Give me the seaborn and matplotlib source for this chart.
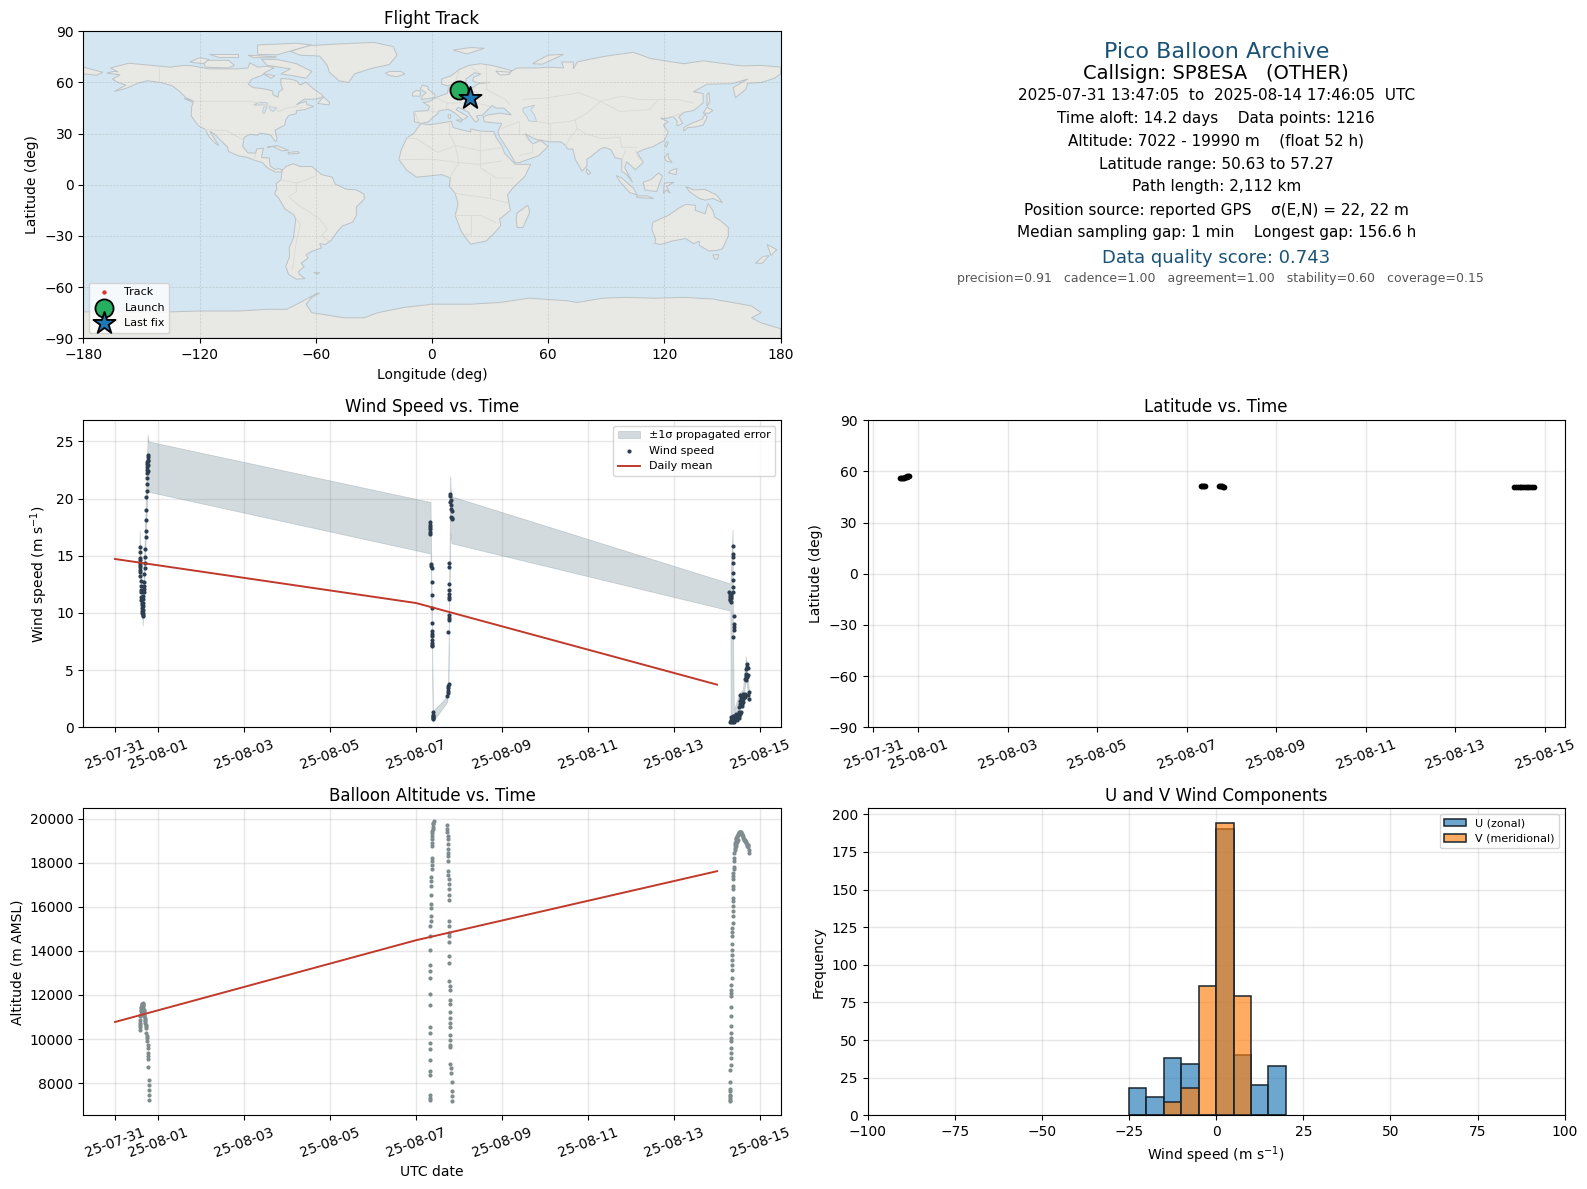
import numpy as np
import pandas as pd
import matplotlib
matplotlib.use('Agg')
import matplotlib.pyplot as plt
import seaborn as sns

# --- wind speed samples (days after 2025-07-31 00:00, m/s)
wind_days = [0.572, 0.572, 0.575, 0.578, 0.58, 0.582, 0.585, 0.588, 0.59, 0.593, 0.596, 0.6, 0.604, 0.608, 0.612, 0.616,
             0.62, 0.624, 0.628, 0.632, 0.636, 0.64, 0.645,
             0.65, 0.652, 0.655, 0.657, 0.66, 0.662, 0.665, 0.667, 0.67, 0.672, 0.676, 0.69, 0.697, 0.7, 0.705, 0.71,
             0.715, 0.72, 0.725, 0.73, 0.735, 0.737, 0.74, 0.742, 0.745, 0.75, 0.752, 0.755, 0.757, 0.76, 0.76, 0.762,
             0.76, 0.758,
             7.325, 7.327, 7.33, 7.322, 7.33, 7.335, 7.357, 7.357, 7.36, 7.36, 7.36, 7.36, 7.36, 7.36, 7.36, 7.36,
             7.37, 7.375, 7.38, 7.38, 7.39, 7.39, 7.385, 7.39, 7.385, 7.385,
             7.73, 7.735, 7.74, 7.745, 7.75, 7.755, 7.75, 7.755, 7.755, 7.76, 7.77, 7.77, 7.775, 7.775, 7.775, 7.77,
             7.775, 7.83, 7.825, 7.82, 7.83, 7.82, 7.81, 7.8, 7.805, 7.8, 7.8,
             14.28, 14.29, 14.3, 14.31, 14.32, 14.33, 14.3, 14.315, 14.325,
             14.37, 14.37, 14.37, 14.37, 14.365, 14.37, 14.37, 14.37, 14.385, 14.39, 14.39, 14.385, 14.36,
             14.31, 14.33, 14.32, 14.34, 14.35, 14.37, 14.39, 14.4, 14.42, 14.44, 14.46, 14.48, 14.5, 14.52, 14.54,
             14.32, 14.36, 14.4, 14.43, 14.47, 14.5, 14.53, 14.55,
             14.52, 14.53, 14.54, 14.55, 14.56, 14.57, 14.58, 14.59, 14.6, 14.61, 14.62, 14.54, 14.57, 14.6,
             14.64, 14.66, 14.68, 14.7, 14.68, 14.67, 14.66, 14.67, 14.69, 14.7, 14.71, 14.72, 14.74, 14.745, 14.73]
wind_speed = [15.8, 15.3, 14.8, 14.6, 14.4, 14.2, 14.0, 13.8, 13.6, 13.2, 12.8, 12.4, 12.0, 11.8, 11.4, 11.1,
              10.9, 10.7, 10.4, 10.2, 10.0, 9.85, 9.7,
              10.0, 10.3, 10.6, 10.9, 11.2, 11.5, 11.8, 12.1, 12.4, 12.7, 13.4, 13.9, 14.4, 14.9, 15.6, 16.65, 17.2,
              18.1, 19.0, 20.1, 20.7, 21.3, 21.8, 22.2, 22.5, 22.8, 23.0, 23.2, 23.4, 23.6, 23.8, 23.3, 22.9, 22.4,
              17.97, 17.7, 17.5, 17.3, 17.1, 16.9, 14.3, 14.1, 13.9, 12.7, 11.6, 10.4, 9.15, 8.4, 8.2, 8.0,
              7.6, 7.4, 7.2, 7.1, 1.3, 1.1, 1.0, 0.9, 0.8, 0.7,
              2.75, 3.0, 3.2, 3.4, 3.6, 3.8, 8.3, 9.4, 9.6, 9.8, 11.2, 11.4, 11.7, 12.0, 12.5, 14.0,
              14.4, 18.2, 18.3, 18.4, 18.9, 19.1, 19.4, 19.7, 19.9, 20.2, 20.4,
              11.8, 11.6, 11.4, 11.2, 11.0, 11.5, 11.1, 11.7, 11.3,
              15.9, 15.2, 14.9, 14.4, 13.5, 12.9, 12.3, 11.8, 9.7, 9.07, 8.8, 8.5, 7.9,
              0.47, 0.6, 0.9, 0.7, 0.5, 0.8, 0.6, 1.0, 0.7, 1.2, 0.9, 1.1, 1.34, 1.0, 1.25,
              0.55, 0.95, 0.5, 0.75, 0.6, 0.85, 1.15, 1.3,
              1.78, 2.0, 2.3, 2.1, 2.6, 2.0, 2.4, 2.7, 2.94, 2.5, 2.85, 2.8, 1.9, 2.2,
              2.65, 2.9, 4.1, 4.4, 4.7, 4.5, 4.2, 5.1, 5.3, 5.57, 5.2, 4.6, 3.1, 2.5, 2.8]

# error band outline (day, lower, upper)
band_days = [0.572, 0.645, 0.76, 0.78, 7.336, 7.35, 7.39, 7.72, 7.75, 7.795, 7.80, 7.825, 14.31, 14.315, 14.36,
             14.37, 14.39, 14.52, 14.6, 14.67, 14.74, 14.75]
band_lower = [14.4, 8.9, 21.4, 20.6, 15.2, 13.0, 0.5, 2.2, 3.2, 17.0, 17.0, 16.1, 10.2, 0.3, 0.3,
              0.3, 0.3, 1.5, 2.0, 4.3, 2.3, 2.3]
band_upper = [17.2, 10.4, 25.6, 25.0, 19.7, 15.4, 1.4, 2.7, 4.0, 21.9, 21.0, 20.2, 12.57, 13.0, 17.3,
              8.0, 1.5, 3.0, 3.3, 6.2, 3.3, 3.3]

mean_days = [0, 7, 14]
wind_mean = [14.72, 10.87, 3.73]
alt_mean = [10773, 14485, 17620]

# --- altitude samples
alt_days = [0.572, 0.575, 0.578, 0.58, 0.585, 0.59, 0.595, 0.6, 0.605, 0.61, 0.615, 0.62, 0.625, 0.63, 0.635, 0.64, 0.645,
            0.65, 0.655, 0.66, 0.665, 0.67, 0.675, 0.68, 0.685, 0.69, 0.695, 0.7, 0.705, 0.71, 0.715, 0.72, 0.73, 0.74,
            0.75, 0.755, 0.76, 0.76, 0.76, 0.76, 0.76, 0.77, 0.78, 0.78, 0.78, 0.78, 0.78,
            7.315, 7.315, 7.315, 7.315, 7.32, 7.32, 7.32, 7.32, 7.32, 7.32, 7.325, 7.325, 7.33, 7.335, 7.335, 7.335,
            7.335, 7.335, 7.34, 7.34, 7.34, 7.35, 7.35, 7.35, 7.35, 7.35, 7.36, 7.36, 7.36, 7.36, 7.37, 7.37, 7.37,
            7.37, 7.38, 7.38, 7.39, 7.39, 7.4, 7.4, 7.41,
            7.73, 7.73, 7.73, 7.735, 7.735, 7.74, 7.74, 7.74, 7.75, 7.75, 7.75, 7.75, 7.755, 7.755, 7.755, 7.755,
            7.76, 7.76, 7.765, 7.765, 7.77, 7.77, 7.77, 7.77, 7.77, 7.78, 7.78, 7.78, 7.78, 7.785, 7.79, 7.79, 7.79,
            7.79, 7.79, 7.79, 7.79, 7.8, 7.81, 7.82, 7.825, 7.83, 7.835, 7.835,
            14.3, 14.3, 14.3, 14.3, 14.3, 14.305, 14.31, 14.31, 14.31, 14.315, 14.315, 14.315, 14.32, 14.32, 14.32,
            14.325, 14.33, 14.33, 14.33, 14.33, 14.33, 14.335, 14.335, 14.34, 14.34, 14.34, 14.345, 14.345, 14.35, 14.35,
            14.35, 14.355, 14.355, 14.36, 14.36, 14.36, 14.365, 14.37, 14.37, 14.37, 14.37, 14.38, 14.38, 14.38,
            14.385, 14.39, 14.39, 14.4, 14.4, 14.41, 14.41, 14.42, 14.43, 14.44, 14.45, 14.46, 14.47, 14.48, 14.49,
            14.5, 14.51, 14.52, 14.53, 14.54, 14.55, 14.56, 14.57, 14.58, 14.59, 14.6, 14.61, 14.62, 14.63, 14.64, 14.65,
            14.66, 14.67, 14.68, 14.69, 14.7, 14.71, 14.72, 14.73, 14.74, 14.745, 14.41, 14.43, 14.45, 14.47, 14.49]
alt_m = [10425, 10530, 10650, 10727, 10880, 11030, 11150, 11258, 11340, 11410, 11470, 11516, 11550, 11580, 11607, 11620, 11580,
         11540, 11485, 11400, 11300, 11250, 11180, 11107, 11030, 10955, 10880, 10805, 10730, 10650, 10580, 10500, 10275, 10150,
         10045, 9900, 9743, 9592, 9365, 9213, 9090, 8727, 8152, 7925, 7697, 7470, 7213,
         7244, 7320, 7470, 8380, 8562, 9047, 9547, 9819, 10273, 10546, 11546, 12046, 12773, 13076, 13380, 14046,
         14697, 15152, 15349, 15576, 15955, 16152, 16546, 16940, 17167, 17364, 17697, 17879, 18076, 18227, 18758, 18909, 19091,
         19200, 19364, 19450, 19546, 19640, 19742, 19820, 19894,
         19697, 19546, 19394, 19212, 19091, 18833, 18636, 18455, 18303, 18076, 17621, 17424, 17273, 17015, 16788, 16561,
         16303, 15349, 15122, 14819, 14667, 14394, 13788, 13455, 12622, 12395, 12243, 11788, 11607, 11212, 10955, 10728, 10546,
         10198, 9970, 9743, 9637, 8880, 8683, 8455, 8046, 7622, 7395, 7180,
         7168, 7240, 7320, 7400, 7470, 7622, 7743, 8046, 8607, 8833, 9137, 9365, 9592, 9895, 10046,
         10273, 10576, 11030, 11455, 11970, 12091, 12243, 12470, 12773, 13152, 13380, 13606, 13834, 14061, 14334,
         14667, 14849, 15046, 15273, 15606, 15803, 16030, 16258, 16410, 16788, 16940, 17243, 17394, 17546,
         17697, 17818, 18076, 18227, 18455, 18682, 18800, 18909, 19000, 19060, 19120, 19160, 19200, 19240, 19290,
         19340, 19370, 19390, 19400, 19395, 19380, 19350, 19320, 19280, 19250, 19200, 19140, 19090, 19050, 19030, 19000,
         18980, 18950, 18900, 18850, 18780, 18800, 18830, 18700, 18560, 18450, 18600, 18750, 18850, 18950, 19020]

# --- latitude samples
lat_days = [0.6, 0.62, 0.64, 0.66, 0.68, 0.7, 0.72, 0.74, 0.76, 0.78, 0.8,
            7.33, 7.35, 7.37, 7.39, 7.41, 7.73, 7.75, 7.77, 7.79, 7.81, 7.83,
            14.32, 14.36, 14.4, 14.44, 14.48, 14.52, 14.56, 14.6, 14.64, 14.68, 14.72, 14.76]
lat_deg = [55.9, 56.0, 56.1, 56.2, 56.3, 56.5, 56.7, 56.9, 57.1, 57.2, 57.27,
           51.2, 51.2, 51.2, 51.2, 51.2, 51.6, 51.5, 51.4, 51.3, 51.1, 50.9,
           51.1, 51.0, 50.9, 50.8, 50.8, 50.7, 50.7, 50.63, 50.7, 50.8, 50.9, 51.1]

# --- map track
track_lon = [11.4, 11.9, 12.6, 13.4, 14.1, 15.2, 16.4, 17.3, 18.2, 19.6]
track_lat = [56.6, 57.1, 57.27, 56.4, 55.7, 54.5, 53.2, 51.9, 51.3, 50.7]
launch_lon, launch_lat = 14.1, 55.7
last_lon, last_lat = 19.6, 50.7

# --- wind component histogram
hist_edges = [-25, -20, -15, -10, -5, 0, 5, 10, 15, 20]
u_counts = [18, 12, 38, 34, 0, 190, 40, 20, 33]
v_counts = [0, 0, 9, 18, 86, 194, 79, 0, 0]

date_ticks = ['2025-07-31', '2025-08-01', '2025-08-03', '2025-08-05', '2025-08-07',
              '2025-08-09', '2025-08-11', '2025-08-13', '2025-08-15']

header_lines = [('Pico Balloon Archive', 51.5, 16, '#1a5276', 1217),
                ('Callsign: SP8ESA   (OTHER)', 73.8, 14, 'black', 1216),
                ('2025-07-31 13:47:05  to  2025-08-14 17:46:05  UTC', 95.3, 11, 'black', 1217),
                ('Time aloft: 14.2 days    Data points: 1216', 118.2, 11, 'black', 1216),
                ('Altitude: 7022 - 19990 m    (float 52 h)', 141, 11, 'black', 1216),
                ('Latitude range: 50.63 to 57.27', 164, 11, 'black', 1216),
                ('Path length: 2,112 km', 187, 11, 'black', 1216.6),
                ('Position source: reported GPS    σ(E,N) = 22, 22 m', 210, 11, 'black', 1216),
                ('Median sampling gap: 1 min    Longest gap: 156.6 h', 233, 11, 'black', 1216.6),
                ('Data quality score: 0.743', 257.7, 13, '#1a5276', 1216),
                ('precision=0.91   cadence=1.00   agreement=1.00   stability=0.60   coverage=0.15', 278.8, 9, '#555555', 1220.2)]

# rough coastlines, lon/lat
land = [
    # north america
    [(-168,65.5),(-164,66.5),(-162,66.2),(-166,68.5),(-156.5,71.3),(-148,70.4),(-141,69.6),(-135,69),(-128,70),(-124,69.8),
     (-115,68),(-108,68),(-100,68),(-95,68.5),(-94,71.5),(-90,69),(-85,69.5),(-81.5,68.5),(-86,66),(-88,64),(-93,62),
     (-94.8,59),(-92.5,57),(-88,56.5),(-82.5,55.2),(-82,52.8),(-79.5,51.3),(-79,54.5),(-77,56),(-78,59),(-78,62.3),(-73,62),
     (-70,61),(-68,58.5),(-65,60.2),(-61.5,56.5),(-57,53),(-56,51.7),(-60,50.2),(-66,50.2),(-70,47),(-65,49),(-64.5,47),
     (-61,46),(-66,44),(-70,43.5),(-70,41.7),(-74,40.6),(-75.5,38),(-76,35),(-78,33.8),(-81,32),(-80,27),(-80.5,25.2),
     (-82,27),(-83,29),(-85,29.7),(-89,30.2),(-90,29.1),(-94,29.6),(-97,27.8),(-97.7,22.5),(-95,18.7),(-91,18.6),(-90.5,21),
     (-87,21.5),(-88,16),(-84,15.7),(-83.5,11),(-81,9),(-79,9.5),(-77.3,8.6),(-78,7.5),(-81,7.5),(-85,10),(-87.5,13),
     (-92,14.5),(-95,16),(-100,17),(-105,19.5),(-105.5,22),(-109,26),(-112.5,30),(-114.7,31.5),(-112,26.5),(-110,23),
     (-112,24.5),(-115,28),(-117,32.5),(-120.5,34.5),(-122.5,37.5),(-124.3,40.5),(-124,46),(-123,49),(-127,51),(-130,54.5),
     (-134,58),(-140,60),(-147,61),(-152,59.5),(-158,56.5),(-164,54.7),(-158,58.5),(-162,60),(-165,62),(-161,64.5)],
    # south america
    [(-77.3,8.6),(-75,11),(-71.5,12.3),(-68,10.7),(-62,10.7),(-57,6),(-51.5,4.5),(-50,0.5),(-44.5,-2.5),(-39,-3),(-35,-5.5),
     (-35,-8.5),(-39,-13),(-39,-18),(-41,-22),(-46,-24),(-48.5,-27),(-52,-32.5),(-55,-35),(-58,-34.5),(-57,-37),(-62,-39),
     (-65,-41),(-64,-43),(-67.5,-46),(-66,-48),(-69,-51),(-68.5,-52.5),(-65.5,-55),(-70,-55.3),(-74,-52.5),(-75.5,-48),
     (-73.5,-42),(-73.7,-37),(-71.5,-31),(-70.3,-20),(-71.5,-17.5),(-76,-14),(-79,-8),(-81.3,-5),(-80,-2.5),(-80.5,0.5),
     (-78,3),(-77.5,7)],
    # eurasia
    [(-9,37),(-9.3,43),(-2,43.5),(-1.2,46),(-4.7,48.4),(-1.5,48.7),(1.5,50.8),(4,52),(8,53.7),(8.5,57),(10.7,57.7),(10,54.8),
     (14,54),(19,54.5),(21,57),(24,59.3),(30,60),(23,60),(21,61),(21.5,63),(25.3,65),(22,65.7),(17.5,62),(17.5,60),(16,56.5),
     (14,55.5),(12.7,56),(11,59),(8,58),(5,59),(5,62),(10,64),(14,67.5),(19,70),(25,71),(31,70),(41,67),(40,64.7),(35,64.3),
     (33,66.7),(40,66),(44,68.5),(54,68.5),(60,69),(68,68.5),(67,72),(73,72),(73,68),(75,72),(81,73.5),(90,75.5),(104,77.7),
     (113,74),(130,71),(140,72.7),(160,69.7),(170,70),(180,69),(180,65),(177,62.5),(170,60),(163,59.5),(162,56),(156.7,51),
     (155.5,57),(163,62),(155,59.3),(142,59),(135,54.5),(140,53.5),(140,48),(135,43.5),(130,42.5),(127.5,39.8),(129.5,36),
     (126.5,34.5),(126.5,37.5),(124.5,40),(121,39),(118,39),(122,37),(119.5,35),(122,31),(120,26),(114,22.3),(110,21),
     (106,19),(109,13),(105,8.8),(103,11),(100.5,13.5),(99.5,10),(103.5,1.5),(100.5,6),(98,8),(98,15),(94.5,16),(92.5,20.5),
     (89,22),(87,21),(82,16.5),(80,15),(80,11),(77.5,8),(74,15),(72.7,21),(70,21),(69,23),(66.5,25.2),(61,25.2),(57,26),
     (54,26.6),(51,28),(48,30),(50,26.5),(52,24),(56,26),(60,22.5),(55,17),(45,13),(43,13),(39,21),(35,28),(34,31),(36,36),
     (30,36.5),(27,37),(26.5,40),(29,41),(35,42),(41,41),(37,45),(33,45),(31,46.5),(28,43),(26,40.8),(23,40.5),(24,38),
     (22.5,36.7),(19.5,41),(19,42.5),(13.5,45.5),(12.5,44),(18.5,40),(16,38),(12,42),(8.5,44.3),(3.5,43.3),(3,41.7),(0,39),
     (-2,36.8),(-5.5,36)],
    # eastern tip of siberia past the date line
    [(-180,69),(-175,67.5),(-170,66),(-173,64.3),(-180,65)],
    # africa
    [(-5.8,35.8),(-1,35.2),(10,37.2),(11,33.5),(15,32.3),(20,31),(20,32.8),(25,31.5),(32,31.2),(33,28),(36,23),(37.5,18.5),
     (43,12),(51,12),(48,5),(42,-1.5),(39,-6),(40.5,-15),(35,-20),(35.5,-24),(32.5,-28),(28,-33),(20,-34.8),(18,-32),(15,-27),
     (12,-18),(13.5,-11),(12,-5),(9,-1),(9.5,4),(5,6),(-3,5),(-8,4.5),(-13,8.5),(-17,14.7),(-16,20),(-13,27.5),(-9.5,30)],
    # australia
    [(114,-22),(113.5,-26),(115.5,-32),(115,-34.3),(118,-35),(124,-33),(131,-31.5),(135,-34.5),(138,-33),(138,-35.5),
     (143,-38.8),(147,-38.5),(150,-37.5),(153,-30),(153,-25),(149,-21),(146,-19),(145,-15),(142.5,-11),(141,-17),(136,-15),
     (136,-12),(131,-11.5),(127,-14),(122,-18)],
    # greenland
    [(-73,78.2),(-65,81.5),(-50,82.5),(-30,83.5),(-20,81),(-18,76),(-22,70.5),(-32,68),(-40,65),(-43,60),(-48,61),(-53,66),
     (-54,70),(-58,75.5),(-68,76)],
    # antarctica
    [(-180,-74.5),(-150,-74.5),(-135,-74.5),(-120,-74),(-100,-74),(-85,-73),(-75,-73),(-68,-69),(-60,-64),
     (-58,-63.5),(-62,-66),(-65,-70),(-62,-75),(-45,-78),(-35,-78),(-28,-75),(-15,-72),(0,-70),(20,-70),(35,-69),(50,-66.5),
     (57,-67),(70,-68),(75,-69),(88,-66.5),(100,-66),(115,-66.5),(130,-66),(145,-67),(155,-69),(165,-71),(170,-75),(165,-78),
     (170,-81),(180,-84.4),(180,-90),(-180,-90)],
    # islands
    [(-5.5,50),(1.5,51.2),(1.5,53),(-2,56),(-2,57.5),(-5,58.5),(-6,56),(-3,54),(-5,52)],
    [(-10,52),(-6,52),(-6,55),(-8,55.3),(-10,54)],
    [(-24,65.5),(-22,64),(-18,63.4),(-14,65),(-16,66.5),(-22,66.4)],
    [(11,79),(20,80.5),(27,80),(18,76.7)],
    [(52,71),(57,70.7),(68,76.5),(60,76),(55,73)],
    [(130,31.5),(132,33.5),(136,34),(140,35),(142,39.5),(141,41.5),(139.5,38.5),(133,35.5),(130,33.5)],
    [(140,42),(143,42),(145,43.5),(142,45.5)],
    [(142,46),(143.5,49),(143,54),(142,53)],
    [(120.2,23),(121,22),(122,25),(121,25.2)],
    [(120,16),(122,18.5),(122,16),(124,13),(121,14)],
    [(122,7),(126,6),(126.5,9.5),(123.5,8.5)],
    [(95,5.5),(98,4),(104,-2),(106,-6),(102,-4.5),(97,2)],
    [(105.5,-6.5),(111,-6.5),(114.5,-8),(106,-7.5)],
    [(109,1.5),(113,3),(117,7),(119,5),(117.5,1),(116,-4),(110,-3)],
    [(119.5,-5),(120,1),(125,1.5),(121,-1),(123,-5),(121,-3)],
    [(131,-1),(135,-3),(141,-2.7),(147,-6),(150,-10.5),(145,-8),(141,-9),(138,-8),(133,-4)],
    [(167,-46),(171,-42),(174,-41.5),(170.5,-46)],
    [(173,-35),(178,-38),(175,-41.5),(174,-38)],
    [(145,-41),(148,-41),(147.5,-43.5),(146,-43.5)],
    [(49.5,-12),(50.5,-16),(47,-25),(44,-25),(43.5,-20),(44,-16.5)],
    [(80,9.5),(82,7),(80.5,6),(79.7,8)],
    [(-85,22),(-80,23),(-74,20.2),(-77.5,19.9),(-82,22.5)],
    [(-74.3,19),(-69,19.5),(-68.5,18.5),(-74,18)],
    [(-59,47.7),(-53,46.8),(-53,48.5),(-56,51.5)],
    [(-80,73.5),(-70,71),(-62,66.5),(-65,62.5),(-72,64),(-78,65),(-73,68),(-85,70),(-88,73.5)],
    [(-117,69),(-105,68.5),(-102,70),(-105,73),(-118,73)],
    [(-125,72),(-118,71),(-115,73.5),(-120,74.5)],
    [(-90,76.5),(-80,76.2),(-62,82),(-70,83),(-90,82)],
    [(-95,76),(-80,75),(-82,74.5),(-92,74.5)],
    [(-110,75),(-100,75),(-100,76.5),(-115,76.5)],
    [(-87,65),(-81,64),(-83,62.5)],
    [(12.5,38),(15.5,38),(15,36.7)],
    [(8.3,41),(9.7,41),(9.5,39),(8.5,39)],
    [(-61,-51.5),(-58,-51.5),(-59,-52.3)],
    [(-128,50.5),(-125,50),(-123.5,48.5)],
]
lakes = [
    [(47,45),(53,46.7),(51,44),(53,41),(54,37),(50,37.5),(49,40),(47,43)],
    [(-92,46.8),(-85,46.8),(-85,48),(-89,48.5)],
    [(-87.5,42),(-86.5,42),(-85,45.8),(-87,45.5)],
    [(-84,46),(-80,45),(-82,43),(-83.5,44)],
]
borders = [
    [(-141,69.6),(-141,60)], [(-123,49),(-95,49),(-89,48),(-83,46),(-79,43),(-75,45),(-70,46),(-67,45)],
    [(-117,32.5),(-106,31.7),(-97,26)], [(-92,14.5),(-91,18)], [(-70,-20),(-68,-23),(-70,-33),(-72,-50)],
    [(-70,-11),(-58,-20),(-54,-26),(-57,-30),(-53,-33)], [(-78,3),(-70,1),(-67,2),(-60,5),(-60,8)], [(-70,-11),(-74,-7),(-70,-4),(-70,1)],
    [(-13,27.5),(-8,27),(3,19),(12,23),(25,20),(37,22)], [(25,31.5),(25,10),(33,4),(42,4)], [(9,37),(9,30),(12,23),(14,13),(9,4)],
    [(-17,14.7),(0,15),(14,13),(24,12),(36,14)], [(12,-5),(30,-8),(40,-11)], [(12,-18),(25,-18),(33,-22)], [(20,-18),(20,-29),(17,-29)],
    [(30,-8),(30,4)], [(-9,43),(-7,37)], [(-2,43.5),(3,42.5)], [(8,48),(7,44)], [(2,51),(8,48),(13,48),(17,48),(23,48),(30,46)],
    [(14,54),(15,51),(24,51),(24,54),(21,55)], [(28,56),(28,70)], [(23,60),(30,60)], [(20,69),(24,66)], [(12,60),(14,67)],
    [(28,56),(38,50),(40,47)], [(47,50),(60,51),(76,54),(87,49),(98,52),(107,50),(117,50),(127,50),(135,48)],
    [(87,49),(80,42),(74,38),(75,33),(79,30),(88,27),(97,28),(98,22),(106,22)], [(87,49),(97,43),(112,44),(117,50)],
    [(54,37),(61,36),(70,37),(74,38)], [(61,36),(61,25.2)], [(75,33),(71,27),(69,23)], [(45,37),(45,30),(48,30)], [(36,33),(45,37)],
    [(36,30),(45,30)], [(52,24),(52,19),(45,17)], [(100,20),(98,15)], [(105,20),(107,15)], [(129,42),(124,40)],
]


def place(fig, left, top, right, bottom):
    # axes rectangle given in pixels from the top left corner
    W, H = fig.get_size_inches() * fig.dpi
    return fig.add_axes([left / W, 1 - bottom / H, (right - left) / W, (bottom - top) / H])


def to_time(days):
    return pd.Timestamp('2025-07-31') + pd.to_timedelta(np.array(days, dtype=float), unit='D')


def date_axis(ax, xlim_days):
    t = pd.to_datetime(date_ticks)
    ax.set_xticks(t)
    ax.set_xticklabels(t.strftime('%y-%m-%d'), rotation=20)
    ax.set_xlim(to_time(xlim_days)[0], to_time(xlim_days)[1])
    ax.set_xlabel('')


fig = plt.figure(figsize=(15.87, 11.89), dpi=100)
color_mean = '#c0392b'
grid_kw = dict(color='#b0b0b0', alpha=0.3, linewidth=1)
edge_col = (0.1, 0.14, 0.18)

# flight track
ax_map = place(fig, 83.3, 31.3, 780.6, 338.3)
ax_map.set_facecolor('#d4e6f1')
for poly in land:
    xy = np.array(poly)
    ax_map.fill(xy[:, 0], xy[:, 1], facecolor='#e8e8e4', edgecolor='#bcc2c5', linewidth=0.7, zorder=1)
for poly in lakes:
    xy = np.array(poly)
    ax_map.fill(xy[:, 0], xy[:, 1], facecolor='#d4e6f1', edgecolor='#bcc2c5', linewidth=0.5, zorder=1.1)
for line in borders:
    xy = np.array(line)
    ax_map.plot(xy[:, 0], xy[:, 1], color='#d9d9d5', linewidth=0.6, zorder=1.2)
ax_map.grid(True, color='#999999', alpha=0.35, linewidth=0.5, linestyle='--', zorder=1.5)
sns.scatterplot(x=track_lon, y=track_lat, ax=ax_map, color='#d8382c', s=10, linewidth=0, label='Track', zorder=3)
sns.scatterplot(x=[launch_lon], y=[launch_lat], ax=ax_map, color='#27ae60', s=170, marker='o', edgecolor='black',
                linewidth=1.3, label='Launch', zorder=4)
sns.scatterplot(x=[last_lon], y=[last_lat], ax=ax_map, color='#1f77b4', s=280, marker='*', edgecolor='black',
                linewidth=1.3, label='Last fix', zorder=5)
ax_map.set_xlim(-180, 180)
ax_map.set_ylim(-90, 90)
ax_map.set_xticks(np.arange(-180, 181, 60))
ax_map.set_yticks(np.arange(-90, 91, 30))
ax_map.set_xlabel('Longitude (deg)')
ax_map.set_ylabel('Latitude (deg)')
ax_map.set_title('Flight Track', pad=5.2)
ax_map.legend(loc='lower left', fontsize=8, framealpha=0.8)

# summary text
W, H = fig.get_size_inches() * fig.dpi
for txt, y, size, col, x in header_lines:
    fig.text(x / W, 1 - y / H, txt, ha='center', va='center', fontsize=size, color=col)

# wind speed
ax_wind = place(fig, 83.3, 420.3, 780.6, 727.3)
ax_wind.grid(True, **grid_kw)
ax_wind.set_axisbelow(True)
ax_wind.fill_between(to_time(band_days), band_lower, band_upper, color='#7a8f9a', alpha=0.33, linewidth=0.6,
                     label='±1σ propagated error')
sns.scatterplot(x=to_time(wind_days), y=wind_speed, ax=ax_wind, color='#2c3e50', s=9, linewidth=0, label='Wind speed')
sns.lineplot(x=to_time(mean_days), y=wind_mean, ax=ax_wind, color=color_mean, linewidth=1.4, label='Daily mean')
date_axis(ax_wind, [-0.737, 15.477])
ax_wind.set_ylim(0, 26.85)
ax_wind.set_ylabel('Wind speed (m s$^{-1}$)')
ax_wind.set_title('Wind Speed vs. Time')
h, l = ax_wind.get_legend_handles_labels()
order = [l.index('±1σ propagated error'), l.index('Wind speed'), l.index('Daily mean')]
ax_wind.legend([h[i] for i in order], [l[i] for i in order], loc='upper right', fontsize=8)

# latitude
ax_lat = place(fig, 867.5, 420.3, 1564.7, 727.3)
ax_lat.grid(True, **grid_kw)
ax_lat.set_axisbelow(True)
sns.scatterplot(x=to_time(lat_days), y=lat_deg, ax=ax_lat, color='black', s=17, linewidth=0)
date_axis(ax_lat, [-0.134, 15.45])
ax_lat.set_ylim(-90, 90)
ax_lat.set_yticks(np.arange(-90, 91, 30))
ax_lat.set_ylabel('Latitude (deg)')
ax_lat.set_title('Latitude vs. Time')

# altitude
ax_alt = place(fig, 83.3, 808.3, 780.6, 1115.3)
ax_alt.grid(True, **grid_kw)
ax_alt.set_axisbelow(True)
sns.scatterplot(x=to_time(alt_days), y=alt_m, ax=ax_alt, color='#7f8c8d', s=9, linewidth=0)
sns.lineplot(x=to_time(mean_days), y=alt_mean, ax=ax_alt, color=color_mean, linewidth=1.4)
date_axis(ax_alt, [-0.737, 15.477])
ax_alt.set_ylim(6538, 20474)
ax_alt.set_yticks(np.arange(8000, 20001, 2000))
ax_alt.set_xlabel('UTC date')
ax_alt.set_ylabel('Altitude (m AMSL)')
ax_alt.set_title('Balloon Altitude vs. Time', pad=5.2)

# wind components
ax_hist = place(fig, 867.5, 808.3, 1564.7, 1115.3)
ax_hist.grid(True, **grid_kw)
ax_hist.set_axisbelow(True)
centres = (np.array(hist_edges[:-1]) + np.array(hist_edges[1:])) / 2
sns.histplot(x=centres, weights=u_counts, bins=hist_edges, ax=ax_hist, color='#1f77b4', alpha=0.65, edgecolor=edge_col,
             linewidth=1.1, label='U (zonal)')
sns.histplot(x=centres, weights=v_counts, bins=hist_edges, ax=ax_hist, color='#ff7f0e', alpha=0.65, edgecolor=edge_col,
             linewidth=1.1, label='V (meridional)')
ax_hist.set_xlim(-100, 100)
ax_hist.set_ylim(0, 204)
ax_hist.set_yticks(np.arange(0, 201, 25))
ax_hist.set_xlabel('Wind speed (m s$^{-1}$)')
ax_hist.set_ylabel('Frequency')
ax_hist.set_title('U and V Wind Components', pad=5.2)
ax_hist.legend(loc='upper right', fontsize=8)

fig.savefig('out.png', dpi=100)
